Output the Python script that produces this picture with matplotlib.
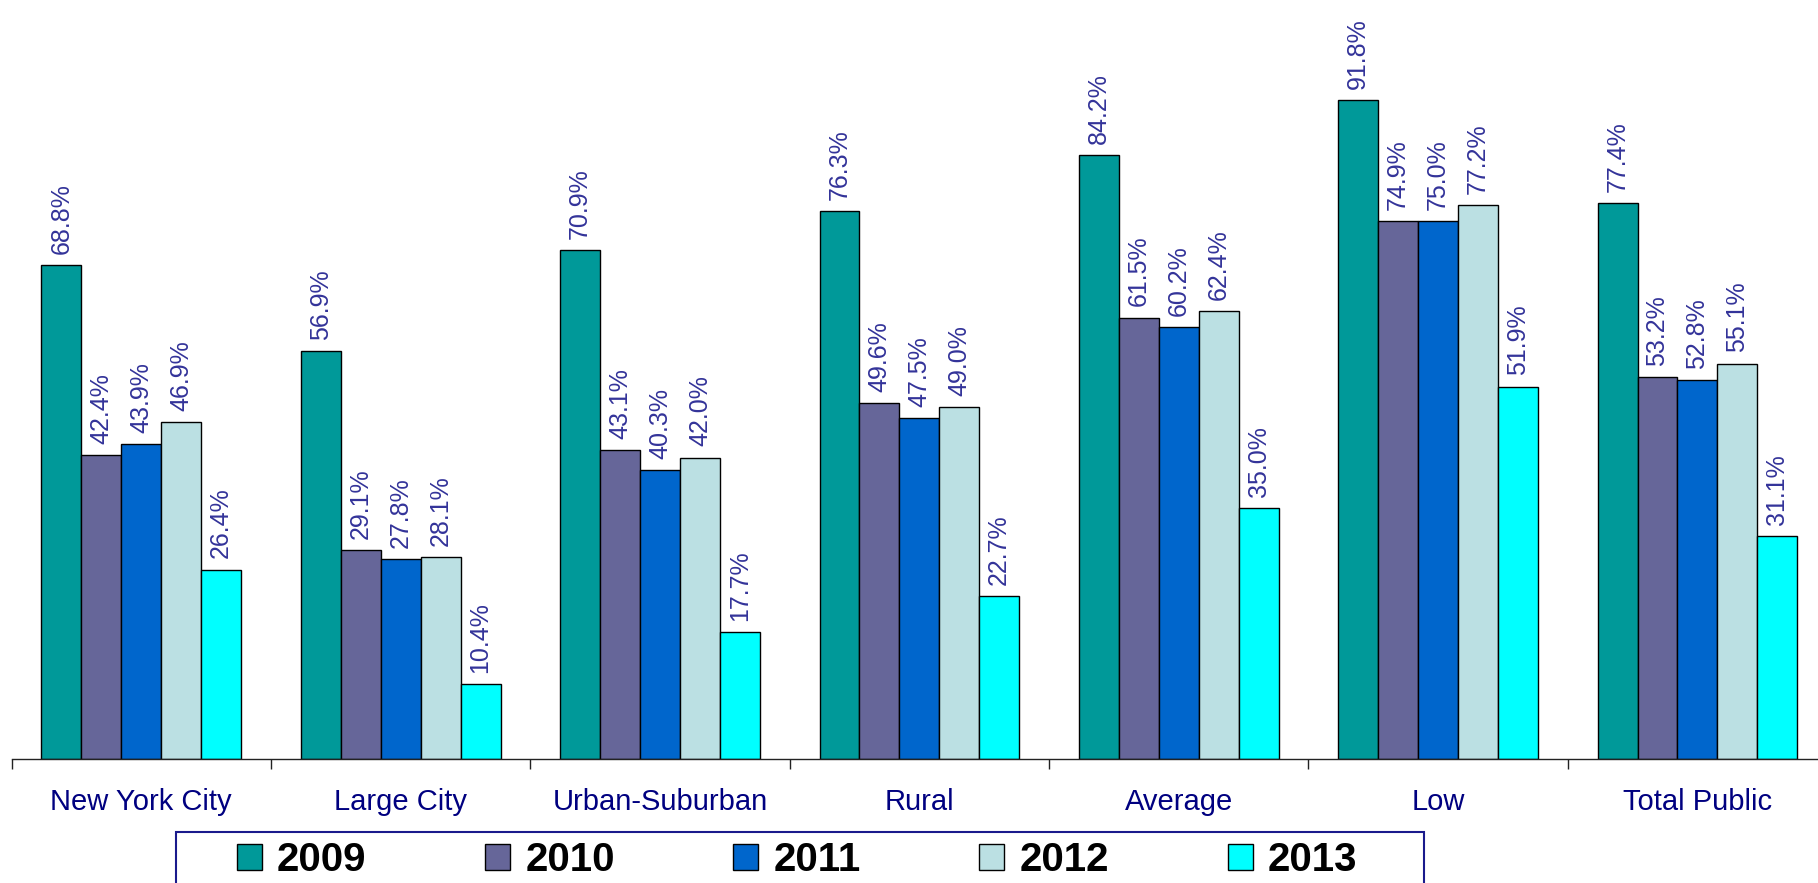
# Grouped bar chart of percentages by district type, 2009-2013

import numpy as np
import matplotlib
matplotlib.use('Agg')
import matplotlib.pyplot as plt
from matplotlib.patches import Rectangle
from matplotlib import font_manager

plt.rcParams['font.family'] = ['Liberation Sans', 'DejaVu Sans']

# Narrow face for the rotated value labels if it is installed
names = {f.name for f in font_manager.fontManager.ttflist}
if 'Liberation Sans Narrow' in names:
    label_font, label_size = 'Liberation Sans Narrow', 21
else:
    label_font, label_size = 'Liberation Sans', 18

# Data
categories = ['New York City', 'Large City', 'Urban-Suburban', 'Rural',
              'Average', 'Low', 'Total Public']
years = ['2009', '2010', '2011', '2012', '2013']
v2009 = [68.8, 56.9, 70.9, 76.3, 84.2, 91.8, 77.4]
v2010 = [42.4, 29.1, 43.1, 49.6, 61.5, 74.9, 53.2]
v2011 = [43.9, 27.8, 40.3, 47.5, 60.2, 75.0, 52.8]
v2012 = [46.9, 28.1, 42.0, 49.0, 62.4, 77.2, 55.1]
v2013 = [26.4, 10.4, 17.7, 22.7, 35.0, 51.9, 31.1]
series = [v2009, v2010, v2011, v2012, v2013]
colors = ['#009999', '#666699', '#0066CC', '#BBE0E3', '#00FFFF']

fig = plt.figure(figsize=(18.18, 8.83), dpi=100)
ax = fig.add_axes([0.0064, 0.1404, 0.9986, 0.8596])

n = len(categories)
bar_w = 0.154
centers = np.arange(n) + 0.5
for i, (vals, col) in enumerate(zip(series, colors)):
    xs = centers + (i - 2) * bar_w
    ax.bar(xs, vals, width=bar_w, color=col, edgecolor='black',
           linewidth=1.0, label=years[i])
    for x, v in zip(xs, vals):
        ax.annotate(f'{v:.1f}%', (x, v), xytext=(0, 8),
                    textcoords='offset points', rotation=90,
                    ha='center', va='bottom', fontsize=label_size,
                    family=label_font, color='#333399')

ax.set_xlim(0, n)
ax.set_ylim(0, 105.75)

# Axis styling
for s in ['top', 'left', 'right']:
    ax.spines[s].set_visible(False)
ax.spines['bottom'].set_color('#222222')
ax.spines['bottom'].set_linewidth(1.0)
ax.set_yticks([])
ax.set_xticks(np.arange(n + 1))
ax.set_xticklabels([])
ax.tick_params(axis='x', which='major', direction='out', length=7.5,
               width=1.0, color='#222222')
ax.set_xticks(centers, minor=True)
ax.set_xticklabels(categories, minor=True, fontsize=21, color='#000080')
ax.tick_params(axis='x', which='minor', length=0, pad=21)

# Legend with frame drawn by hand (it runs off the bottom of the figure)
fig.patches.append(Rectangle((0.0968, -0.2), 0.6865, 0.2578,
                             transform=fig.transFigure, fill=False,
                             edgecolor='#1a1a8c', linewidth=1.5))
fig.legend(loc='center left', bbox_to_anchor=(0.1304, 0.0255), ncol=5,
           frameon=False, prop={'weight': 'bold', 'size': 29},
           handlelength=0.62, handleheight=0.62, handletextpad=0.37,
           columnspacing=2.95, borderpad=0, borderaxespad=0)

plt.savefig('out.png', dpi=100)
